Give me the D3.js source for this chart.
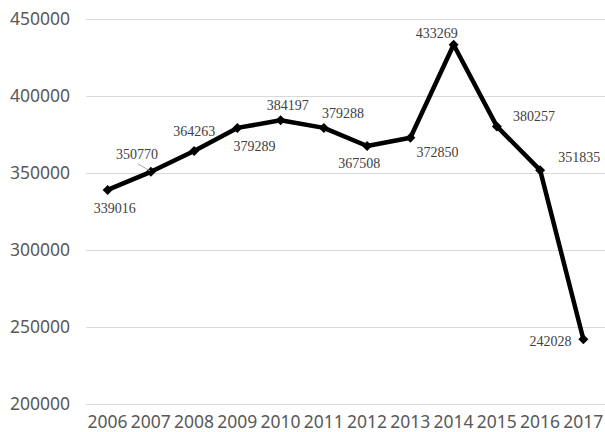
<!DOCTYPE html>
<html>
<head>
<meta charset="utf-8">
<script src="https://cdn.jsdelivr.net/npm/d3@7"></script>
<style>
  body { margin: 0; background: #fff; }
</style>
</head>
<body>
<svg id="chart" width="605" height="432"></svg>
<script>
var years = ["2006","2007","2008","2009","2010","2011","2012","2013","2014","2015","2016","2017"];
var values = [339016, 350770, 364263, 379289, 384197, 379288, 367508, 372850, 433269, 380257, 351835, 242028];
var yTicks = [200000, 250000, 300000, 350000, 400000, 450000];

var svg = d3.select("#chart");

var x = d3.scaleBand()
    .domain(years)
    .range([86, 605]);
var y = d3.scaleLinear()
    .domain([200000, 450000])
    .range([404, 19]);

// grid
svg.append("g").selectAll("line")
    .data(yTicks)
    .enter().append("line")
    .attr("x1", 86)
    .attr("x2", 605)
    .attr("y1", function(d){ return Math.round(y(d)) + 0.5; })
    .attr("y2", function(d){ return Math.round(y(d)) + 0.5; })
    .attr("stroke", "#d9d9d9")
    .attr("stroke-width", 1);

// y labels
svg.append("g").selectAll("text")
    .data(yTicks)
    .enter().append("text")
    .attr("x", 70)
    .attr("y", function(d){ return y(d); })
    .attr("dy", "0.35em")
    .attr("text-anchor", "end")
    .attr("fill", "#595959")
    .style("font-family", "Noto Sans")
    .style("font-size", "17.5px")
    .text(function(d){ return d; });

// x labels
svg.append("g").selectAll("text")
    .data(years)
    .enter().append("text")
    .attr("x", function(d){ return x(d) + x.bandwidth()/2; })
    .attr("y", 422)
    .attr("dy", "0.35em")
    .attr("text-anchor", "middle")
    .attr("fill", "#595959")
    .style("font-family", "Noto Sans")
    .style("font-size", "17.5px")
    .text(function(d){ return d; });

var cx = function(i){ return x(years[i]) + x.bandwidth()/2; };

var line = d3.line()
    .x(function(d, i){ return cx(i); })
    .y(function(d){ return y(d); });

svg.append("path")
    .datum(values)
    .attr("d", line)
    .attr("fill", "none")
    .attr("stroke", "#000")
    .attr("stroke-width", 4.5)
    .attr("stroke-linejoin", "round");

svg.append("g").selectAll("path")
    .data(values)
    .enter().append("path")
    .attr("d", d3.symbol().type(d3.symbolSquare).size(50))
    .attr("transform", function(d, i){ return "translate(" + cx(i) + "," + y(d) + ") rotate(45)"; })
    .attr("fill", "#000");

// data label placement (dx, dy from point)
var lblOff = [[7,18],[-14,-18],[0,-20],[17,18],[7,-15],[19,-15],[-8,17],[27,14],[-17,-12],[37,-10],[39,-13],[-33,2]];

// leader line for 2007
svg.append("line")
    .attr("x1", cx(1) - 13).attr("y1", y(values[1]) - 8)
    .attr("x2", cx(1) - 1).attr("y2", y(values[1]) - 1)
    .attr("stroke", "#a6a6a6")
    .attr("stroke-width", 1);

svg.append("g").selectAll("text")
    .data(values)
    .enter().append("text")
    .attr("x", function(d, i){ return cx(i) + lblOff[i][0]; })
    .attr("y", function(d, i){ return y(d) + lblOff[i][1]; })
    .attr("dy", "0.35em")
    .attr("text-anchor", "middle")
    .attr("fill", "#404040")
    .style("font-family", "Liberation Serif")
    .style("font-size", "14px")
    .text(function(d){ return d; });
</script>
</body>
</html>
